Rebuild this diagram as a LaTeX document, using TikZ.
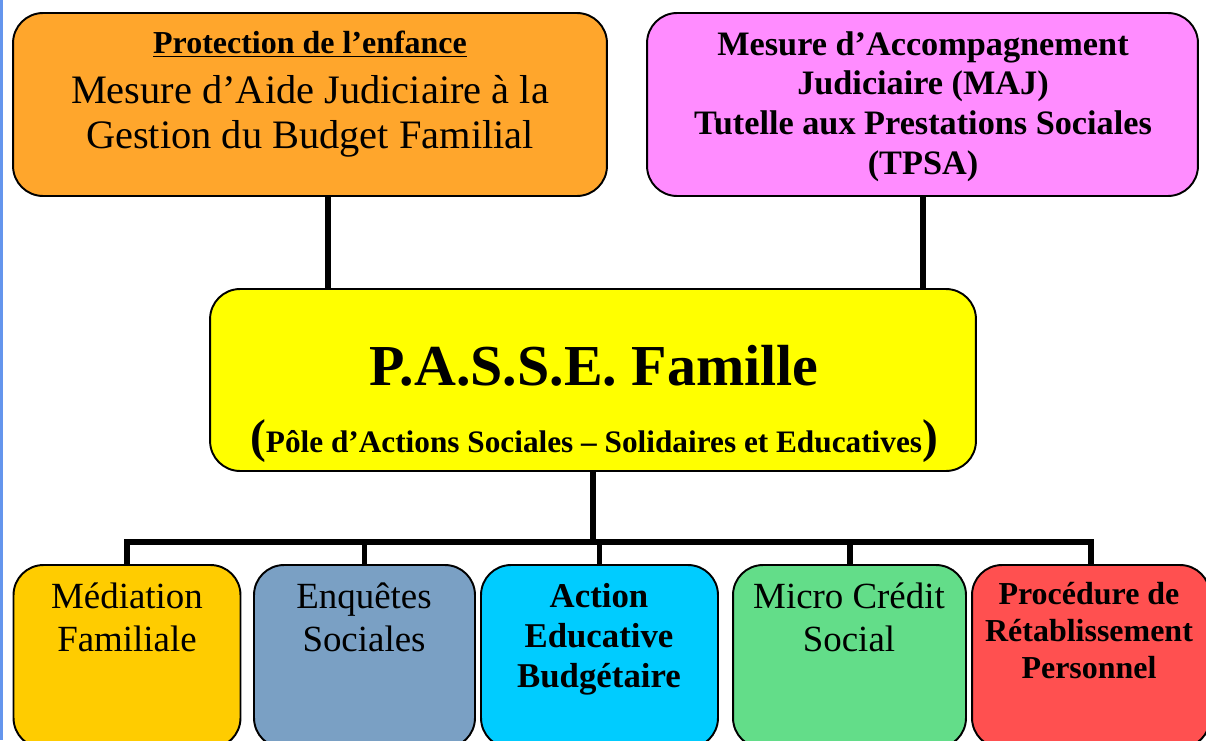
\documentclass[tikz,border=0pt]{standalone}
\usepackage{fontspec}
\setmainfont{Liberation Serif}
\usetikzlibrary{calc}

\definecolor{protorange}{RGB}{255,166,44}
\definecolor{majpink}{RGB}{255,140,255}
\definecolor{passeyellow}{RGB}{255,255,0}
\definecolor{medgold}{RGB}{255,204,0}
\definecolor{enqblue}{RGB}{122,160,196}
\definecolor{actcyan}{RGB}{0,204,255}
\definecolor{micgreen}{RGB}{99,221,137}
\definecolor{procred}{RGB}{255,80,80}
\definecolor{stripblue}{RGB}{100,149,237}

\tikzset{
  box/.style={draw=black, line width=1.1pt, rounded corners=0.6cm, minimum height=3.66cm, inner sep=0pt},
  link/.style={line width=3.4pt},
  txt/.style={align=center, inner sep=0pt, anchor=base},
}

\begin{document}
\begin{tikzpicture}[x=0.02cm,y=-0.02cm]
	\useasboundingbox (0,0) rectangle (1206,740);
	\clip (0,0) rectangle (1206,740);
	\fill[stripblue] (0,0) rectangle (3,740);

	\node[box, fill=protorange, minimum width=11.88cm] (prot) at (310,104.5) {};
	\node[box, fill=majpink, minimum width=11.02cm] (maj) at (922.5,104.5) {};
	\node[box, fill=passeyellow, minimum width=15.32cm, minimum height=3.64cm] (passe) at (593,380) {};

	\node[box, fill=medgold, minimum width=4.54cm] (med) at (127,656.5) {};
	\node[box, fill=enqblue, minimum width=4.42cm] (enq) at (364.5,656.5) {};
	\node[box, fill=actcyan, minimum width=4.74cm] (act) at (599.5,656.5) {};
	\node[box, fill=micgreen, minimum width=4.66cm] (mic) at (849.5,656.5) {};
	\node[box, fill=procred, minimum width=4.76cm] (proc) at (1091,656.5) {};

	\node[txt, font=\fontsize{18.2}{21}\selectfont\bfseries] (prot-head) at (310,54) {\underline{Protection de l’enfance}};
	\node[txt, font=\fontsize{23}{25.3}\selectfont] (prot-text) at (310,148) {Mesure d’Aide Judiciaire à la\\Gestion du Budget Familial};
	\node[txt, font=\fontsize{19.5}{22.5}\selectfont\bfseries] (maj-text) at (923,174) {Mesure d’Accompagnement\\Judiciaire (MAJ)\\Tutelle aux Prestations Sociales\\(TPSA)};

	\node[txt, font=\fontsize{33}{36}\selectfont\bfseries] (passe-title) at (594,385) {P.A.S.S.E. Famille};
	\node[txt, font=\fontsize{17.8}{20}\selectfont\bfseries] (passe-sub) at (594,452) {{\fontsize{27}{27}\selectfont(}Pôle d’Actions Sociales – Solidaires et Educatives{\fontsize{27}{27}\selectfont)}};

	\node[txt, font=\fontsize{21}{24}\selectfont] (med-text) at (127,651) {Médiation\\Familiale};
	\node[txt, font=\fontsize{21}{24}\selectfont] (enq-text) at (364,651) {Enquêtes\\Sociales};
	\node[txt, font=\fontsize{19.8}{22.5}\selectfont\bfseries] (act-text) at (599,687) {Action\\Educative\\Budgétaire};
	\node[txt, font=\fontsize{21}{24}\selectfont] (mic-text) at (849,651) {Micro Crédit\\Social};
	\node[txt, font=\fontsize{18.2}{21}\selectfont\bfseries] (proc-text) at (1089,678) {Procédure de\\Rétablissement\\Personnel};

	\coordinate (prot-foot) at ($(prot.south)+(18,0)$);
	\coordinate (bar) at (593,542);
	\draw[link] (prot-foot) -- (prot-foot |- passe.north);
	\draw[link] (maj.south) -- (maj.south |- passe.north);
	\draw[link] (passe.south) -- (bar);
	\foreach \b in {med,enq,act,mic,proc}
		\draw[link] (bar) -| (\b.north);
\end{tikzpicture}
\end{document}
